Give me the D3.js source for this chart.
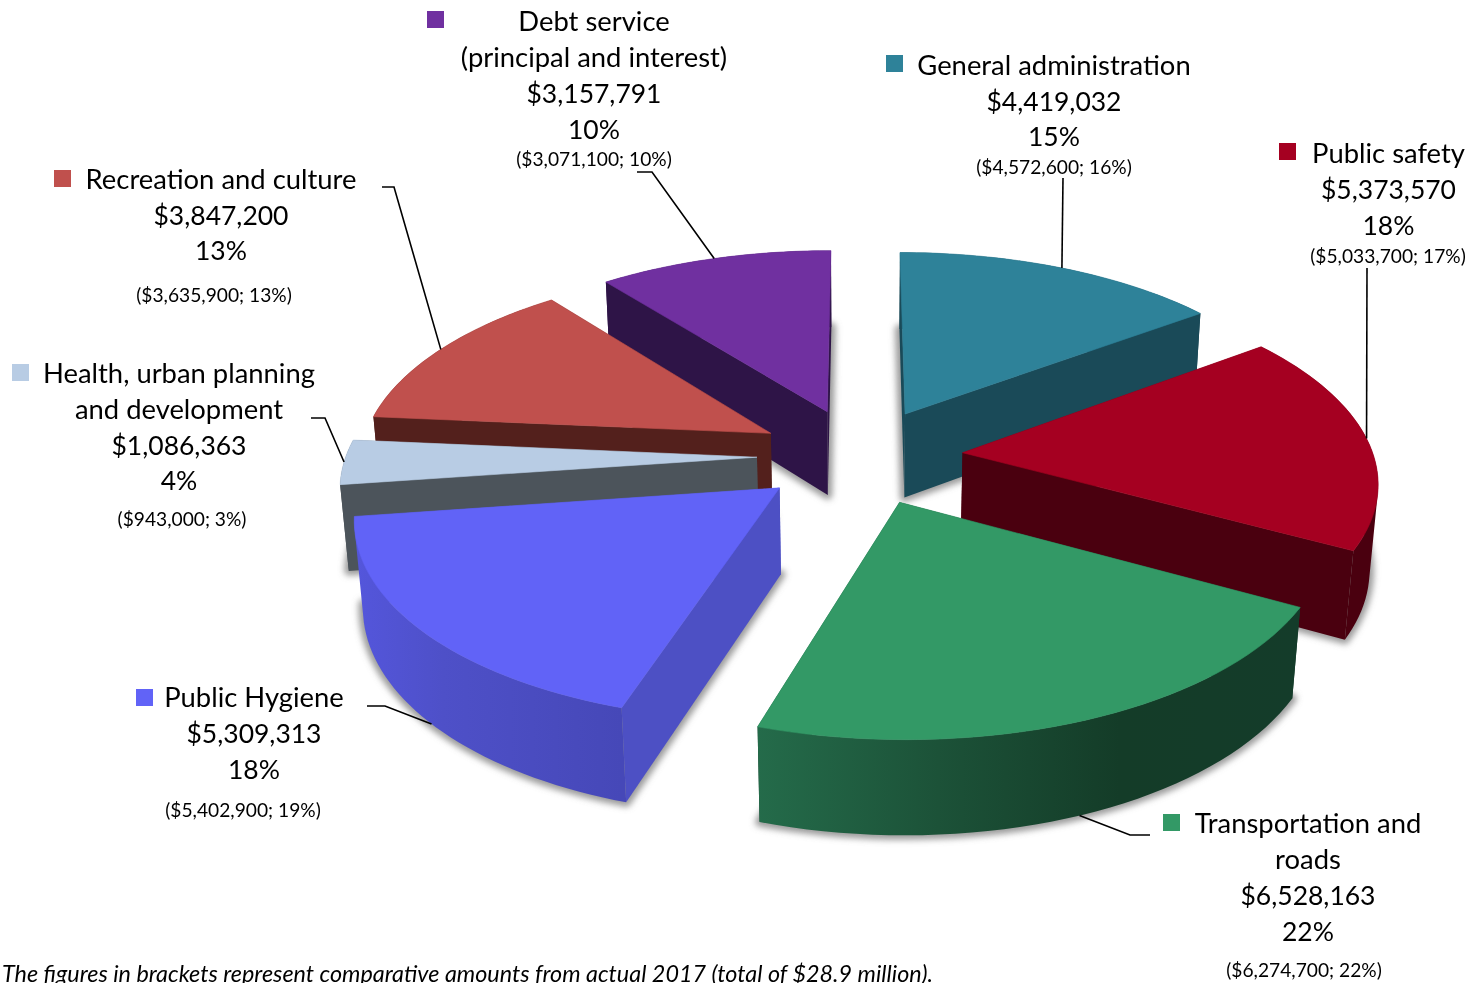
<!DOCTYPE html>
<html>
<head>
<meta charset="utf-8">
<script src="https://cdnjs.cloudflare.com/ajax/libs/d3/7.8.5/d3.min.js"></script>
<style>
  html, body { margin: 0; padding: 0; background: #fff; overflow: hidden; }
  svg { display: block; }
  text { font-family: Lato, "Noto Sans", sans-serif; fill: #000; }
</style>
</head>
<body>
<div id="chart"></div>
<script>
// Budget figures, clockwise from twelve o'clock
const categories = ["General administration", "Public safety", "Transportation and roads", "Public Hygiene",
  "Health, urban planning and development", "Recreation and culture", "Debt service (principal and interest)"];
const nameLines = [["General administration"], ["Public safety"], ["Transportation and", "roads"], ["Public Hygiene"],
  ["Health, urban planning", "and development"], ["Recreation and culture"], ["Debt service", "(principal and interest)"]];
const budget = [4419032, 5373570, 6528163, 5309313, 1086363, 3847200, 3157791];
const shareLabels = ["15%", "18%", "22%", "18%", "4%", "13%", "10%"];
const comparative = ["($4,572,600; 16%)", "($5,033,700; 17%)", "($6,274,700; 22%)", "($5,402,900; 19%)",
  "($943,000; 3%)", "($3,635,900; 13%)", "($3,071,100; 10%)"];
const footnote = "The figures in brackets represent comparative amounts from actual 2017 (total of $28.9 million).";

// Face colours per slice
const topColors = ["#2E8299", "#A50021", "#339966", "#6163F7", "#B8CCE4", "#C0504D", "#7030A0"];
const wallColors = ["#1A4A58", "#4A000F", "#143C2A", "#4D50C4", "#4C545B", "#53201C", "#2E1447"];
const rimStops = [
  ["#1A4A58", "#1A4A58"],
  ["#4A000F", "#4A000F"],
  ["#246B4A", "#1C5238", "#143C28", "#143C2A"],
  ["#5456DC", "#4E50C8", "#4A4CC0", "#4648B8"],
  ["#4C545B", "#4C545B"],
  ["#53201C", "#53201C"],
  ["#2E1447", "#2E1447"]
];

// Camera and solid
const view = { width: 1474, height: 983, cx: 860, cy: 456, tilt: 28 * Math.PI / 180, distance: 2770,
  radius: 411, explode: 103, thickness: 98 };

// Text and leader placement: x centre, first baseline, comparative line, swatch, leader route
const layout = [
  { x: 1054, y: 75, line: 35.5, small: [1054, 174], swatch: [886, 55], bend: [[1063, 178]], at: 0.50, base: false },
  { x: 1388.5, y: 163, line: 36, small: [1388, 263], swatch: [1279, 143], bend: [[1367, 268]], at: 0.495, base: false },
  { x: 1308, y: 833, line: 36, small: [1304, 977], swatch: [1163, 814], bend: [[1150, 835], [1130, 835]], at: 0.503, base: true },
  { x: 254, y: 707, line: 36, small: [243, 817], swatch: [136, 689], bend: [[367, 706], [385, 706]], at: 0.49, base: true },
  { x: 179, y: 383, line: 35.8, small: [182, 526], swatch: [12, 364], bend: [[311, 418], [325, 418]], at: 0.5, base: false },
  { x: 221, y: 189, line: 35.5, small: [214, 302], swatch: [54, 170], bend: [[382, 187], [394, 187]], at: 0.5, base: false },
  { x: 594, y: 31, line: 36, small: [594, 166], swatch: [427, 11], bend: [[637, 172], [652, 172]], at: 0.5, base: false }
];

const svg = d3.select("#chart").append("svg").attr("width", view.width).attr("height", view.height);
const defs = svg.append("defs");
defs.append("filter").attr("id", "soft").attr("x", "-20%").attr("y", "-20%").attr("width", "140%").attr("height", "140%")
  .append("feGaussianBlur").attr("stdDeviation", 3);

const arcs = d3.pie().sort(null).startAngle(0).endAngle(2 * Math.PI)(budget);

const sinT = Math.sin(view.tilt), cosT = Math.cos(view.tilt);
function project(x, north, z) {
  const u = north * sinT + z * cosT;
  const depth = view.distance + north * cosT - z * sinT;
  const s = view.distance / depth;
  return [view.cx + x * s, view.cy - u * s];
}
function cameraDepth(x, north, z) { return north * cosT - z * sinT; }

const path = d3.line();

const slices = arcs.map((a, i) => {
  const mid = (a.startAngle + a.endAngle) / 2;
  const ox = view.explode * Math.sin(mid), oy = view.explode * Math.cos(mid);
  const rim = t => {
    const ang = a.startAngle + (a.endAngle - a.startAngle) * t;
    return [ox + view.radius * Math.sin(ang), oy + view.radius * Math.cos(ang)];
  };
  const ts = d3.range(0, 41).map(k => k / 40);
  const rim3 = ts.map(rim);
  return { i, mid, ox, oy, rim, rim3, north: oy };
});

function shape3(points, z) { return points.map(p => project(p[0], p[1], z)); }

// Vertical wall over a run of ground points, as one quad per step wound the same way,
// so the fill stays solid where the curved wall folds at the silhouette
function wallPath(points) {
  return d3.pairs(points).map(pair => {
    const quad = shape3(pair, 0).concat(shape3(pair, -view.thickness).reverse());
    if (d3.polygonArea(quad) < 0) quad.reverse();
    return path(quad) + "Z";
  }).join("");
}

// Soft contact shadow under every slice
const shadows = svg.append("g").attr("filter", "url(#soft)");
slices.forEach(s => {
  const outline = [[s.ox, s.oy], ...s.rim3];
  shadows.append("path")
    .attr("d", path(shape3(outline, -view.thickness)) + "Z")
    .attr("fill", "#7a7a7a").attr("stroke", "#7a7a7a").attr("stroke-width", 9)
    .attr("stroke-linejoin", "round").attr("opacity", 0.75);
});

// Slices painted far to near
const solids = svg.append("g");
d3.sort(slices, s => -s.north).forEach(s => {
  const g = solids.append("g");
  const apex = [s.ox, s.oy];
  const H = view.thickness;
  const grad = defs.append("linearGradient").attr("id", "rim" + s.i).attr("gradientUnits", "userSpaceOnUse");
  const xs = shape3(s.rim3, 0).map(p => p[0]);
  grad.attr("x1", d3.min(xs)).attr("x2", d3.max(xs)).attr("y1", 0).attr("y2", 0);
  rimStops[s.i].forEach((c, k, all) => grad.append("stop").attr("offset", k / (all.length - 1)).attr("stop-color", c));

  const first = s.rim3[0], last = s.rim3[s.rim3.length - 1];
  const walls = [
    { pts: [apex, first], fill: wallColors[s.i] },
    { pts: [apex, last], fill: wallColors[s.i] },
    { pts: s.rim3, fill: `url(#rim${s.i})` }
  ].map(w => {
    w.depth = d3.mean(w.pts, p => cameraDepth(p[0], p[1], -H / 2));
    return w;
  });
  d3.sort(walls, w => -w.depth).forEach(w => {
    g.append("path").attr("d", wallPath(w.pts))
      .attr("fill", w.fill).attr("fill-rule", "nonzero");
  });
  g.append("path").attr("d", path(shape3([apex, ...s.rim3], 0)) + "Z")
    .attr("fill", topColors[s.i]).attr("stroke", topColors[s.i]).attr("stroke-width", 0.6);
});

// Leader lines, swatches and labels
const notes = svg.append("g");
slices.forEach(s => {
  const L = layout[s.i];
  const p = s.rim(L.at);
  const end = project(p[0], p[1], L.base ? -view.thickness : 0);
  notes.append("path").attr("d", path([...L.bend, end]))
    .attr("fill", "none").attr("stroke", "#000").attr("stroke-width", 1.6);
  notes.append("rect").attr("x", L.swatch[0]).attr("y", L.swatch[1]).attr("width", 17).attr("height", 17)
    .attr("fill", topColors[s.i]);
  const names = nameLines[s.i];
  const lines = [...names, d3.format("$,")(budget[s.i]), shareLabels[s.i]];
  lines.forEach((t, k) => {
    notes.append("text").attr("x", L.x).attr("y", L.y + k * L.line)
      .attr("text-anchor", "middle").attr("font-size", k < names.length ? 27.4 : 26.5).text(t);
  });
  notes.append("text").attr("x", L.small[0]).attr("y", L.small[1])
    .attr("text-anchor", "middle").attr("font-size", 19.2).text(comparative[s.i]);
});

svg.append("text").attr("x", 2).attr("y", 982).attr("font-size", 23).attr("font-style", "italic")
  .attr("textLength", 931).attr("lengthAdjust", "spacingAndGlyphs").text(footnote);
</script>
</body>
</html>
